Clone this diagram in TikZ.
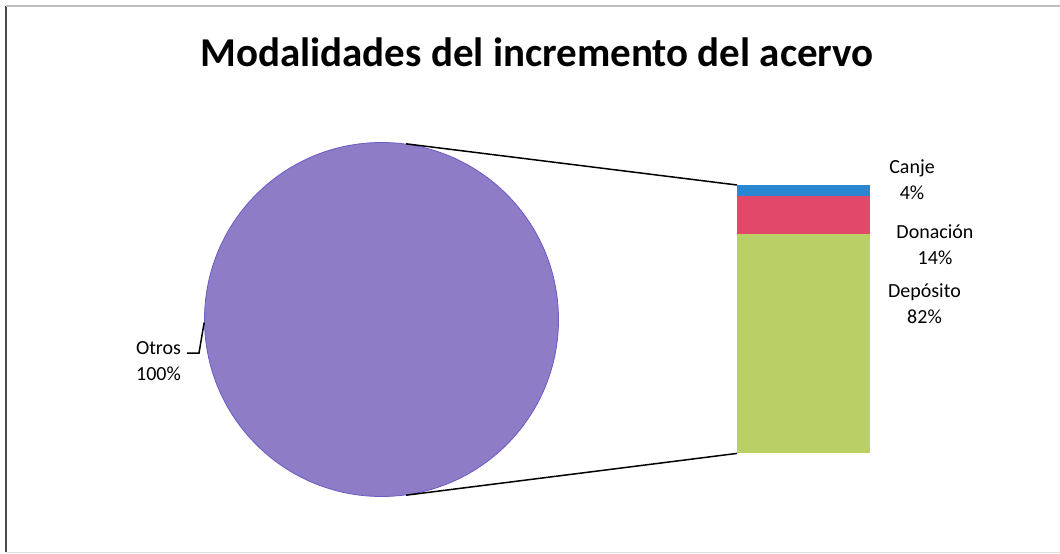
\documentclass[tikz,border=0pt]{standalone}
\usepackage{fontspec}
\setmainfont{Carlito}
\definecolor{piecol}{HTML}{8E7CC6}
\definecolor{pieedge}{HTML}{6A5CC4}
\definecolor{canjecol}{HTML}{2B86D1}
\definecolor{doncol}{HTML}{E2486A}
\definecolor{depcol}{HTML}{B8D066}
\begin{document}
\begin{tikzpicture}[x=1pt,y=-1pt,
  lbl/.style={align=center,inner sep=0pt,anchor=base,font=\fontsize{20}{26}\selectfont},
  seg/.style={rectangle,inner sep=0pt,minimum width=133pt,anchor=north west,draw=none},
  conn/.style={draw=black,line width=1.5pt}]
\useasboundingbox (0,0) rectangle (1060,554);
\fill[white] (0,0) rectangle (1060,554);
\draw[line width=1.6pt,color=black!70] (6,6) -- (6,552);
\draw[line width=1.5pt,color=black!25] (6,6) -- (1060,6);
\draw[line width=1pt,color=black!12] (6,552) -- (1060,552);
\node[font=\fontsize{41}{48}\selectfont\bfseries,anchor=base,inner sep=0pt] (title) at (537,66) {Modalidades del incremento del acervo};
\node[circle,minimum size=354pt,inner sep=0pt,fill=piecol,draw=pieedge,line width=0.8pt] (pie) at (381.5,319.5) {};
\node[seg,fill=canjecol,minimum height=11pt] (canje) at (737,185) {};
\node[seg,fill=doncol,minimum height=37.5pt] (don) at (737,196) {};
\node[seg,fill=depcol,minimum height=219.5pt] (dep) at (737,233.5) {};
\draw[conn] (pie.82) -- (canje.north west);
\draw[conn] (pie.-82) -- (dep.south west);
\coordinate (ol) at (199,353);
\coordinate (oe) at (187,353);
\draw[line width=1.5pt] (pie.181) -- (ol) -- (oe);
\node[lbl] (otros) at (158.5,380) {Otros\\100\%};
\node[lbl] (lcanje) at (912,199) {Canje\\4\%};
\node[lbl] (ldon) at (935,264) {Donación\\14\%};
\node[lbl] (ldep) at (924.5,323) {Depósito\\82\%};
\end{tikzpicture}
\end{document}
